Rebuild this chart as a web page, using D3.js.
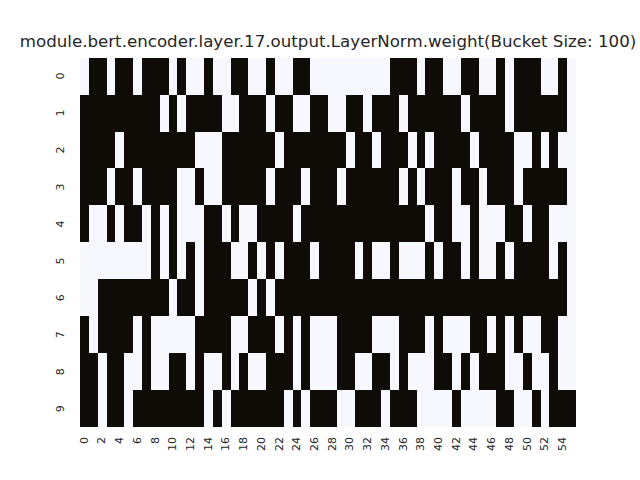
<!DOCTYPE html>
<html>
<head>
<meta charset="utf-8">
<script src="https://cdn.jsdelivr.net/npm/d3@7"></script>
<style>
  html, body { margin: 0; padding: 0; background: #ffffff; }
  svg { display: block; }
</style>
</head>
<body>
<svg id="chart" width="640" height="480"></svg>
<script>
// ---- data (1 = dark bucket, 0 = light bucket) ----
const titleText = "module.bert.encoder.layer.17.output.LayerNorm.weight(Bucket Size: 100)";
const rowLabels = ["0","1","2","3","4","5","6","7","8","9"];
const colIndex = d3.range(56);
const xTickLabels = d3.range(0, 56, 2).map(String);

const row0 = [0,1,1,0,1,1,0,1,1,1, 0,1,0,0,1,0,0,1,1,0, 0,1,0,0,1,1,0,0,0,0, 0,0,0,0,0,1,1,1,0,1, 1,0,0,1,1,0,0,1,0,1, 1,1,0,0,1,0];
const row1 = [1,1,1,1,1,1,1,1,1,0, 1,0,1,1,1,1,0,0,1,1, 1,0,1,1,0,0,1,1,0,0, 1,1,0,1,1,1,0,1,1,1, 1,1,1,0,1,1,1,1,0,1, 1,1,1,1,1,0];
const row2 = [1,1,1,1,0,1,1,1,1,1, 1,1,1,0,0,0,1,1,1,1, 1,1,0,1,1,1,1,1,1,1, 0,1,1,0,1,1,1,0,1,0, 1,1,1,1,0,1,1,1,1,0, 0,1,0,1,0,0];
const row3 = [1,1,1,0,1,1,0,1,1,1, 1,0,0,1,0,0,1,1,1,1, 1,0,1,1,1,0,1,1,1,0, 1,1,1,1,1,1,0,1,0,1, 1,1,0,1,1,0,1,1,1,0, 1,1,1,1,1,0];
const row4 = [1,0,0,1,0,1,1,0,1,0, 1,0,0,0,1,1,0,1,0,0, 1,1,1,1,0,1,1,1,1,1, 1,1,1,1,1,1,1,1,1,0, 1,1,0,0,1,0,0,0,1,1, 0,1,1,0,0,0];
const row5 = [0,0,0,0,0,0,0,0,1,0, 1,0,1,0,1,1,1,0,0,1, 0,1,0,1,1,1,0,1,1,1, 1,0,1,0,0,1,0,0,0,1, 0,1,1,0,1,0,0,1,0,1, 1,1,1,0,1,0];
const row6 = [0,0,1,1,1,1,1,1,1,1, 0,1,1,0,1,1,1,1,1,0, 1,0,1,1,1,1,1,1,1,1, 1,1,1,1,1,1,1,1,1,1, 1,1,1,1,1,1,1,1,1,1, 1,1,1,1,1,0];
const row7 = [1,0,1,1,1,1,0,1,0,0, 0,0,0,1,1,1,1,0,0,1, 1,1,0,1,0,1,0,0,0,1, 1,1,1,0,0,0,1,1,1,0, 1,0,0,0,1,1,0,1,0,1, 0,0,1,1,0,0];
const row8 = [1,1,0,1,1,0,0,1,0,0, 1,1,0,1,0,0,1,0,1,0, 0,1,1,1,0,1,0,0,0,1, 1,0,0,1,1,0,1,0,0,0, 1,1,0,1,0,1,1,1,0,0, 1,0,0,1,0,0];
const row9 = [1,1,0,1,1,0,1,1,1,1, 1,1,1,1,0,1,0,1,1,1, 1,1,1,0,1,0,1,1,1,0, 0,1,1,1,0,1,1,1,0,0, 0,0,1,0,0,0,0,1,1,0, 0,1,0,1,1,1];
const rows = [row0,row1,row2,row3,row4,row5,row6,row7,row8,row9];

// ---- layout ----
const svg = d3.select("#chart");
const plotLeft = 80, plotRight = 576, plotTop = 57.6, plotBottom = 427.2;
const textColor = "#262626";
const font = "DejaVu Sans, sans-serif";

const x = d3.scaleBand().domain(colIndex).range([plotLeft, plotRight]).padding(0);
const y = d3.scaleBand().domain(d3.range(rowLabels.length)).range([plotTop, plotBottom]).padding(0);
const color = d3.scaleLinear().domain([0, 1]).range(["#f7f8fd", "#0f0b07"]);

const cells = [];
rows.forEach((r, i) => r.forEach((v, j) => cells.push({ i, j, v })));

svg.append("g")
  .attr("shape-rendering", "crispEdges")
  .selectAll("rect")
  .data(cells)
  .join("rect")
  .attr("x", d => x(d.j))
  .attr("y", d => y(d.i))
  .attr("width", d => (d.j === colIndex.length - 1 ? x.bandwidth() : x.bandwidth() + 0.5))
  .attr("height", d => (d.i === rowLabels.length - 1 ? y.bandwidth() : y.bandwidth() + 0.5))
  .attr("fill", d => color(d.v));

// x axis
const xAxis = d3.axisBottom(x)
  .tickValues(xTickLabels.map(Number))
  .tickSize(0)
  .tickPadding(0);
const gx = svg.append("g").attr("transform", `translate(0,${plotBottom})`).call(xAxis);
gx.select(".domain").remove();
gx.selectAll(".tick text")
  .attr("fill", textColor)
  .attr("font-family", font)
  .attr("font-size", "11px")
  .attr("text-anchor", "end")
  .attr("y", 0)
  .attr("dy", "0.3em")
  .attr("transform", "translate(0,9.7) rotate(-90)");

// y axis
const yAxis = d3.axisLeft(y)
  .tickFormat(i => rowLabels[i])
  .tickSize(0)
  .tickPadding(0);
const gy = svg.append("g").attr("transform", `translate(${plotLeft},0)`).call(yAxis);
gy.select(".domain").remove();
gy.selectAll(".tick text")
  .attr("fill", textColor)
  .attr("font-family", font)
  .attr("font-size", "11px")
  .attr("text-anchor", "middle")
  .attr("x", 0)
  .attr("dy", 0)
  .attr("transform", "translate(-16,0) rotate(-90)");

// title
svg.append("text")
  .attr("x", (plotLeft + plotRight) / 2)
  .attr("y", 47)
  .attr("text-anchor", "middle")
  .attr("fill", textColor)
  .attr("font-family", font)
  .attr("font-size", "16.67px")
  .text(titleText);
</script>
</body>
</html>
